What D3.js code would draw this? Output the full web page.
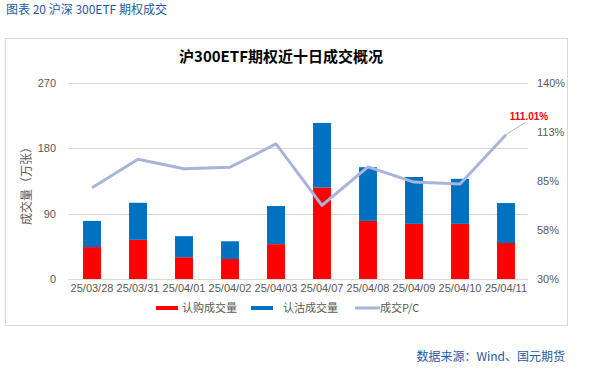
<!DOCTYPE html>
<html><head><meta charset="utf-8">
<script src="https://cdn.jsdelivr.net/npm/d3@7"></script>
<style>body{margin:0;background:#fff;}svg{display:block;font-family:"Liberation Sans",Arial,"Noto Sans CJK SC",sans-serif;}</style>
</head><body>
<svg id="c" width="595" height="379"></svg>
<script>
const categories = ["25/03/28","25/03/31","25/04/01","25/04/02","25/04/03","25/04/07","25/04/08","25/04/09","25/04/10","25/04/11"];
const callVol = [44, 54, 30, 27.5, 48, 126, 80, 76, 76, 49.6];
const putVol  = [36, 51, 29, 24.5, 52.5, 89, 74, 64.5, 62, 55];
const pcRatio = [81.2, 97.2, 91.9, 92.7, 105.8, 71.3, 92.9, 84.4, 83.3, 111.01];
const leftTicks = [0, 90, 180, 270];
const rightTicks = [30, 57.5, 85, 112.5, 140];
const rightTickLabels = ["30%","58%","85%","113%","140%"];
const seriesNames = ["认购成交量","认沽成交量","成交P/C"];
const colors = ["#FF0000","#0070C0","#A9B4DA"];

const svg = d3.select("#c");
const cjk = '"Noto Sans CJK SC",sans-serif';

svg.append("text").attr("x",6).attr("y",14).attr("fill","#1F5AA6")
  .style("font-family",cjk).style("font-size","12px").text("图表 20  沪深 300ETF 期权成交");

svg.append("rect").attr("x",5.5).attr("y",38.5).attr("width",562).attr("height",287)
  .attr("fill","#fff").attr("stroke","#D9D9D9");

svg.append("text").attr("x",281).attr("y",62).attr("text-anchor","middle").attr("fill","#000")
  .style("font-family",cjk).style("font-size","15px").style("font-weight","bold").text("沪300ETF期权近十日成交概况");

const x = d3.scaleBand().domain(categories).range([69,529]).paddingInner(0.61).paddingOuter(0.305);
const yL = d3.scaleLinear().domain([0,270]).range([279,83]);
const yR = d3.scaleLinear().domain([30,140]).range([279,83]);

// grid
svg.append("g").selectAll("line").data(leftTicks).join("line")
  .attr("x1",68).attr("x2",528).attr("y1",d=>Math.round(yL(d))+0.5).attr("y2",d=>Math.round(yL(d))+0.5)
  .attr("stroke","#D9D9D9");

// left axis
const gL = svg.append("g").attr("transform","translate(68,0)")
  .call(d3.axisLeft(yL).tickValues(leftTicks).tickSize(0).tickPadding(12));
gL.select(".domain").remove();
gL.selectAll("text").attr("fill","#595959").style("font-size","11px");

// right axis
const gR = svg.append("g").attr("transform","translate(528,0)")
  .call(d3.axisRight(yR).tickValues(rightTicks).tickSize(0).tickPadding(9).tickFormat((d,i)=>rightTickLabels[i]));
gR.select(".domain").remove();
gR.selectAll("text").attr("fill","#595959").style("font-size","11px");

// y title
svg.append("text").attr("transform","translate(31,183) rotate(-90)").attr("text-anchor","middle")
  .attr("fill","#595959").style("font-family",cjk).style("font-size","12px").text("成交量（万张）");

// bars
const stacked = d3.stack().keys([0,1]).value((d,k)=>d[k])(categories.map((c,i)=>[callVol[i],putVol[i]]));
stacked.forEach((s,k)=>{
  svg.append("g").selectAll("rect").data(s).join("rect")
    .attr("x",(d,i)=>x(categories[i])).attr("width",x.bandwidth())
    .attr("y",d=>yL(d[1])).attr("height",d=>yL(d[0])-yL(d[1]))
    .attr("fill",colors[k]);
});

// x axis
const gX = svg.append("g").attr("transform","translate(0,279)")
  .call(d3.axisBottom(x).tickSize(0).tickPadding(5));
gX.select(".domain").attr("stroke","#D9D9D9").attr("d","M68,0.5H528");
gX.selectAll("text").attr("fill","#595959").style("font-size","11px");

// line
const line = d3.line().x((d,i)=>x(categories[i])+x.bandwidth()/2).y(d=>yR(d));
svg.append("path").datum(pcRatio).attr("d",line).attr("fill","none")
  .attr("stroke",colors[2]).attr("stroke-width",3).attr("stroke-linejoin","round");

// data label for last
const li = pcRatio.length-1;
const lx = x(categories[li])+x.bandwidth()/2, ly = yR(pcRatio[li]);
svg.append("line").attr("x1",lx).attr("y1",ly).attr("x2",lx+19).attr("y2",ly-12).attr("stroke","#A6A6A6").attr("stroke-width",0.8);
svg.append("text").attr("x",529).attr("y",120).attr("text-anchor","middle").attr("fill","#FF0000")
  .style("font-size","10px").style("font-weight","bold").text(d3.format(".2f")(pcRatio[li])+"%");

// legend
const leg = [{x:156,w:22,tx:182},{x:251,w:22,tx:283},{x:355,w:25,tx:380}];
leg.forEach((l,i)=>{
  svg.append("line").attr("x1",l.x).attr("x2",l.x+l.w).attr("y1",308).attr("y2",308)
    .attr("stroke",colors[i]).attr("stroke-width",i==2?3:4);
  svg.append("text").attr("x",l.tx).attr("y",312).attr("fill","#595959")
    .style("font-family",cjk).style("font-size","11px").text(seriesNames[i]);
});

svg.append("text").attr("x",565).attr("y",361).attr("text-anchor","end").attr("fill","#1F5AA6")
  .style("font-family",cjk).style("font-size","12px").text("数据来源：Wind、国元期货");
</script>
</body></html>
